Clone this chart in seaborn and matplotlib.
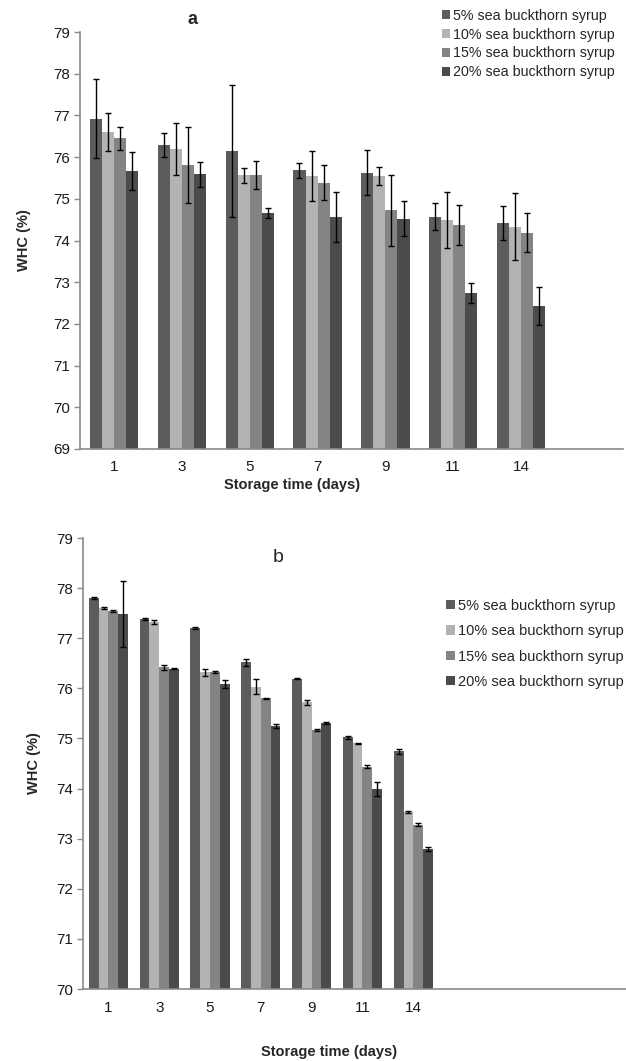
import matplotlib
matplotlib.use("Agg")
import matplotlib.pyplot as plt
import seaborn as sns
import numpy as np
import pandas as pd
from matplotlib.ticker import FixedLocator

# storage days shown on the x axis
days = ["1", "3", "5", "7", "9", "11", "14"]
groups = ["5% sea buckthorn syrup", "10% sea buckthorn syrup",
          "15% sea buckthorn syrup", "20% sea buckthorn syrup"]

# panel a: WHC (%) means and error bars
a_5 = [76.92, 76.29, 76.15, 75.69, 75.63, 74.57, 74.42]
a_10 = [76.60, 76.19, 75.57, 75.55, 75.55, 74.49, 74.33]
a_15 = [76.45, 75.81, 75.57, 75.38, 74.73, 74.37, 74.19]
a_20 = [75.67, 75.59, 74.66, 74.56, 74.52, 72.75, 72.43]
a_5_err = [0.95, 0.28, 1.58, 0.18, 0.53, 0.32, 0.40]
a_10_err = [0.45, 0.63, 0.18, 0.60, 0.21, 0.68, 0.80]
a_15_err = [0.27, 0.90, 0.33, 0.42, 0.85, 0.47, 0.46]
a_20_err = [0.45, 0.30, 0.13, 0.60, 0.42, 0.24, 0.45]

# panel b
b_5 = [77.81, 77.38, 77.21, 76.52, 76.19, 75.02, 74.74]
b_10 = [77.60, 77.33, 76.32, 76.03, 75.72, 74.90, 73.53]
b_15 = [77.54, 76.42, 76.32, 75.80, 75.17, 74.44, 73.28]
b_20 = [77.48, 76.39, 76.08, 75.24, 75.30, 74.00, 72.79]
b_5_err = [0.02, 0.02, 0.02, 0.07, 0.01, 0.03, 0.05]
b_10_err = [0.02, 0.04, 0.07, 0.15, 0.05, 0.01, 0.02]
b_15_err = [0.02, 0.05, 0.02, 0.01, 0.02, 0.03, 0.03]
b_20_err = [0.66, 0.01, 0.08, 0.04, 0.02, 0.14, 0.04]

colors = ["#5c5c5c", "#b3b3b3", "#848484", "#4b4b4b"]


def long_df(series):
    rows = []
    for g, vals in zip(groups, series):
        for d, v in zip(days, vals):
            rows.append({"day": d, "group": g, "whc": v})
    return pd.DataFrame(rows)


def draw_panel(ax, series, errs, n_slots, ymin, ymax, width, tick_fs, pad):
    df = long_df(series)
    order = days + [" " * (i + 1) for i in range(n_slots - len(days))]
    sns.barplot(data=df, x="day", y="whc", hue="group", order=order,
                hue_order=groups, palette=colors, saturation=1, width=width,
                edgecolor="none", linewidth=0, errorbar=None, ax=ax, legend=True)
    for cont, err in zip(ax.containers, errs):
        bars = sorted(cont.patches, key=lambda p: p.get_x())
        xs = [p.get_x() + p.get_width() / 2 for p in bars]
        ys = [p.get_height() for p in bars]
        ax.errorbar(xs, ys, yerr=err, fmt="none", ecolor="black",
                    elinewidth=1.0, capsize=2.5, capthick=1.0, zorder=5)
    ax.set_xlim(-0.5, n_slots - 0.5)
    ax.set_ylim(ymin, ymax)
    ax.set_yticks(np.arange(ymin, ymax + 1, 1))
    ax.xaxis.set_minor_locator(FixedLocator(np.arange(-0.5, n_slots, 1)))
    ax.tick_params(axis="x", which="major", length=0, pad=pad,
                   labelsize=tick_fs, labelcolor="#1a1a1a")
    ax.tick_params(axis="x", which="minor", length=5, width=1.2,
                   color="#8a8a8a", direction="out")
    ax.tick_params(axis="y", which="major", length=4, width=1.0, left=True,
                   color="#8a8a8a", direction="out", labelsize=tick_fs,
                   labelcolor="#1a1a1a", pad=3)
    for s in ["top", "right"]:
        ax.spines[s].set_visible(False)
    for s in ["left", "bottom"]:
        ax.spines[s].set_color("#8a8a8a")
        ax.spines[s].set_linewidth(1.2)
    ax.set_xlabel("Storage time (days)", fontweight="bold", fontsize=10.5)
    ax.set_ylabel("WHC (%)", fontweight="bold", fontsize=10.5)


sns.set_style("white")
plt.rcParams["font.family"] = ["Liberation Sans", "DejaVu Sans"]

fig = plt.figure(figsize=(6.26, 10.61), dpi=100)

ax1 = fig.add_axes([80 / 626, 1 - 449 / 1061, 543 / 626, 417 / 1061])
draw_panel(ax1, [a_5, a_10, a_15, a_20],
           [a_5_err, a_10_err, a_15_err, a_20_err], 8, 69, 79, 0.71, 11, 8)
ax1.xaxis.set_label_coords(0.39, -0.07)
ax1.yaxis.set_label_coords(-0.09, 0.5)
h, l = ax1.get_legend_handles_labels()
ax1.get_legend().remove()
fig.legend(h, l, loc="upper left", bbox_to_anchor=(436 / 626, 1 - 3 / 1061),
           frameon=False, fontsize=10.3, handlelength=0.6, handleheight=0.6,
           handletextpad=0.2, labelspacing=0.34, borderaxespad=0)
fig.text(192 / 626, 1 - 20 / 1061, "a", fontsize=13, fontweight="bold",
         ha="center", va="center")

ax2 = fig.add_axes([83 / 626, 1 - 989 / 1061, 559 / 626, 451 / 1061])
draw_panel(ax2, [b_5, b_10, b_15, b_20],
           [b_5_err, b_10_err, b_15_err, b_20_err], 11, 70, 79, 0.77, 11, 9)
ax2.xaxis.set_label_coords(0.44, -0.125)
ax2.yaxis.set_label_coords(-0.075, 0.5)
h, l = ax2.get_legend_handles_labels()
ax2.get_legend().remove()
fig.legend(h, l, loc="upper left", bbox_to_anchor=(440 / 626, 1 - 593 / 1061),
           frameon=False, fontsize=10.5, handlelength=0.6, handleheight=0.6,
           handletextpad=0.25, labelspacing=0.78, borderaxespad=0)
fig.text(278 / 626, 1 - 558 / 1061, "b", fontsize=14,
         ha="center", va="center")

fig.savefig("out.png", dpi=100)
